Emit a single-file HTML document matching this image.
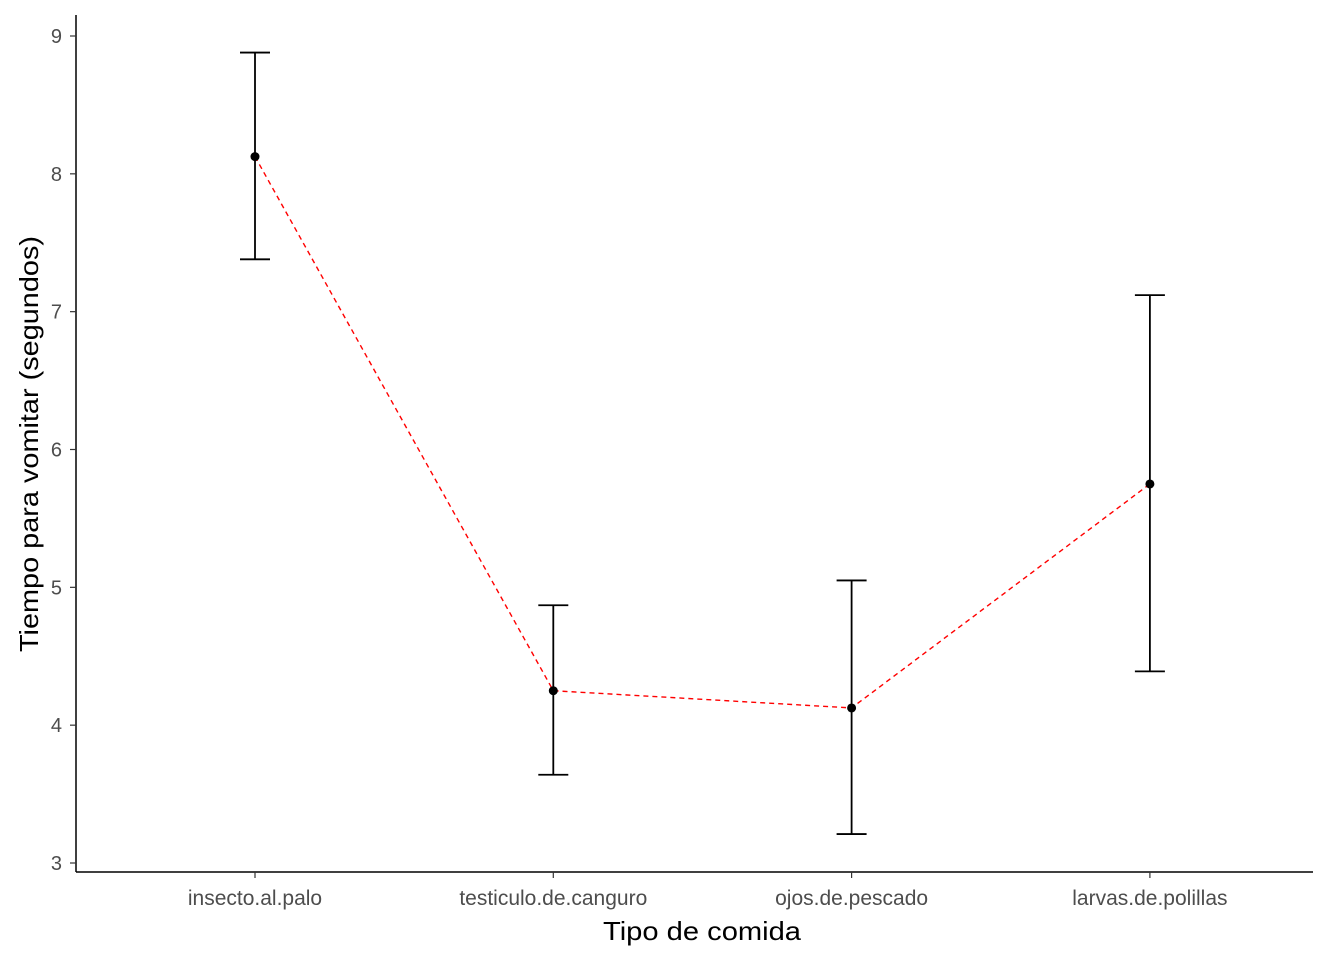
<!DOCTYPE html>
<html><head><meta charset="utf-8"><style>body{margin:0;background:#fff}svg{display:block;font-family:"Liberation Sans",Arial,sans-serif}</style></head>
<body>
<svg id="chart" width="1344" height="960" viewBox="0 0 1344 960">
<g id="plot"></g>
</svg>
<script>
const categories = ["insecto.al.palo","testiculo.de.canguro","ojos.de.pescado","larvas.de.polillas"];
const means = [8.125, 4.25, 4.125, 5.75];
const upper = [8.88, 4.87, 5.05, 7.12];
const lower = [7.38, 3.64, 3.21, 4.39];
const yTicks = [3,4,5,6,7,8,9];

const NS="http://www.w3.org/2000/svg";
const g=document.getElementById('plot');
function yS(v){return 36+(9-v)*(863-36)/6;}
function xS(i){return 255+i*298.3;}
function mk(t,a,p){const e=document.createElementNS(NS,t);for(const k in a)e.setAttribute(k,a[k]);(p||g).appendChild(e);return e;}

let e;
e=mk('line',{x1:76,y1:15,x2:76,y2:872,stroke:'#000','stroke-width':1.5});


e=mk('line',{x1:76,y1:872,x2:1313,y2:872,stroke:'#000','stroke-width':1.5});



yTicks.forEach(v=>{
  const y=yS(v);
  e=mk('line',{x1:70,y1:y,x2:76,y2:y,stroke:'#333','stroke-width':1.2});
  
  
  e=mk('text',{x:62,y:y+7,'text-anchor':'end','font-size':20,fill:'#4d4d4d'});
  e.textContent=v;
  
  
});
categories.forEach((c,i)=>{
  const x=xS(i);
  e=mk('line',{x1:x,y1:872,x2:x,y2:878,stroke:'#333','stroke-width':1.2});
  
  
  e=mk('text',{x:x,y:905,'text-anchor':'middle','font-size':21,fill:'#4d4d4d'});
  e.textContent=c;
  
  
});

categories.forEach((c,i)=>{
  const x=xS(i);
  const eg=mk('g',{});
  
  
  mk('line',{x1:x,y1:yS(upper[i]),x2:x,y2:yS(lower[i]),stroke:'#000','stroke-width':1.8},eg);
  mk('line',{x1:x-15,y1:yS(upper[i]),x2:x+15,y2:yS(upper[i]),stroke:'#000','stroke-width':1.8},eg);
  mk('line',{x1:x-15,y1:yS(lower[i]),x2:x+15,y2:yS(lower[i]),stroke:'#000','stroke-width':1.8},eg);
});
e=mk('polyline',{points:means.map((m,i)=>xS(i)+','+yS(m)).join(' '),fill:'none',stroke:'#ff0000','stroke-width':1.4,'stroke-dasharray':'5,4'});


means.forEach((m,i)=>{
  e=mk('circle',{cx:xS(i),cy:yS(m),r:4.5,fill:'#000'});
  
  
});

e=mk('text',{x:702,y:940,'text-anchor':'middle','font-size':26,fill:'#000',textLength:198,lengthAdjust:'spacingAndGlyphs'});
e.textContent='Tipo de comida';


e=mk('text',{x:0,y:0,'text-anchor':'middle','font-size':26,fill:'#000',textLength:416,lengthAdjust:'spacingAndGlyphs',transform:'translate(38,444) rotate(-90)'});
e.textContent='Tiempo para vomitar (segundos)';


</script>
</body></html>
